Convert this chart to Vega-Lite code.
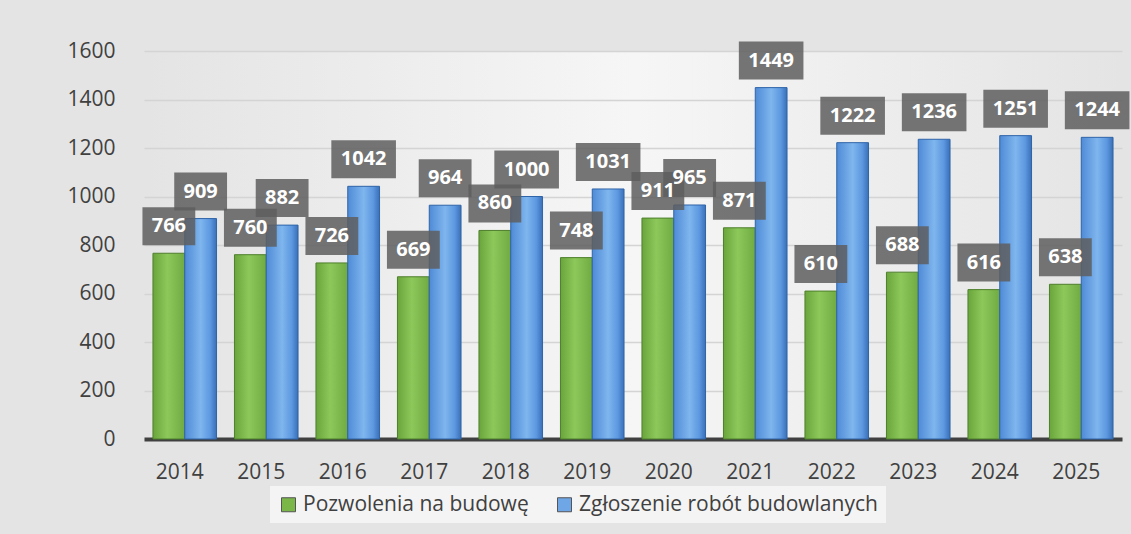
{
  "$schema": "https://vega.github.io/schema/vega-lite/v6.json",
  "autosize": "none",
  "width": 978,
  "height": 388,
  "padding": {"left": 144, "top": 51, "right": 9, "bottom": 95},
  "background": "#e4e4e4",
  "config": {
    "font": "Open Sans",
    "view": {
      "stroke": null,
      "fill": {
        "gradient": "linear", "x1": 0, "y1": 0, "x2": 1, "y2": 0,
        "stops": [
          {"offset": 0, "color": "#e4e4e4"},
          {"offset": 0.5, "color": "#f6f6f6"},
          {"offset": 1, "color": "#e4e4e4"}
        ]
      }
    }
  },
  "data": {
    "values": [
      {"year": "2014", "series": "Zgłoszenie robót budowlanych", "value": 909},
      {"year": "2015", "series": "Zgłoszenie robót budowlanych", "value": 882},
      {"year": "2016", "series": "Zgłoszenie robót budowlanych", "value": 1042},
      {"year": "2017", "series": "Zgłoszenie robót budowlanych", "value": 964},
      {"year": "2018", "series": "Zgłoszenie robót budowlanych", "value": 1000},
      {"year": "2019", "series": "Zgłoszenie robót budowlanych", "value": 1031},
      {"year": "2020", "series": "Zgłoszenie robót budowlanych", "value": 965},
      {"year": "2021", "series": "Zgłoszenie robót budowlanych", "value": 1449},
      {"year": "2022", "series": "Zgłoszenie robót budowlanych", "value": 1222},
      {"year": "2023", "series": "Zgłoszenie robót budowlanych", "value": 1236},
      {"year": "2024", "series": "Zgłoszenie robót budowlanych", "value": 1251},
      {"year": "2025", "series": "Zgłoszenie robót budowlanych", "value": 1244},
      {"year": "2014", "series": "Pozwolenia na budowę", "value": 766},
      {"year": "2015", "series": "Pozwolenia na budowę", "value": 760},
      {"year": "2016", "series": "Pozwolenia na budowę", "value": 726},
      {"year": "2017", "series": "Pozwolenia na budowę", "value": 669},
      {"year": "2018", "series": "Pozwolenia na budowę", "value": 860},
      {"year": "2019", "series": "Pozwolenia na budowę", "value": 748},
      {"year": "2020", "series": "Pozwolenia na budowę", "value": 911},
      {"year": "2021", "series": "Pozwolenia na budowę", "value": 871},
      {"year": "2022", "series": "Pozwolenia na budowę", "value": 610},
      {"year": "2023", "series": "Pozwolenia na budowę", "value": 688},
      {"year": "2024", "series": "Pozwolenia na budowę", "value": 616},
      {"year": "2025", "series": "Pozwolenia na budowę", "value": 638}
    ]
  },
  "encoding": {
    "x": {
      "field": "year", "type": "nominal",
      "scale": {"paddingInner": 0.22, "paddingOuter": 0.11},
      "axis": {
        "title": null, "labelAngle": 0, "labelFontSize": 21, "labelColor": "#404040",
        "labelPadding": 22, "labelOffset": -5, "ticks": false, "grid": false,
        "domainColor": "#404040", "domainWidth": 4
      }
    },
    "y": {
      "field": "value", "type": "quantitative",
      "scale": {"domain": [0, 1600], "nice": false},
      "axis": {
        "title": null, "values": [0, 200, 400, 600, 800, 1000, 1200, 1400, 1600],
        "format": "d",
        "labelFontSize": 21, "labelColor": "#404040", "labelPadding": 29,
        "ticks": false, "domain": false, "gridColor": "#d4d4d4", "gridWidth": 1.5
      }
    },
    "xOffset": {
      "field": "series", "type": "nominal",
      "scale": {"domain": ["Pozwolenia na budowę", "Zgłoszenie robót budowlanych"], "paddingInner": 0}
    }
  },
  "layer": [
    {
      "transform": [{"filter": "datum.series === 'Pozwolenia na budowę'"}],
      "mark": {
        "type": "bar",
        "stroke": "#4e7f2c", "strokeWidth": 1,
        "color": {
          "gradient": "linear", "x1": 0, "y1": 0, "x2": 1, "y2": 0,
          "stops": [
            {"offset": 0, "color": "#6aa53c"},
            {"offset": 0.45, "color": "#8cc85a"},
            {"offset": 1, "color": "#6fab42"}
          ]
        }
      }
    },
    {
      "transform": [{"filter": "datum.series === 'Zgłoszenie robót budowlanych'"}],
      "mark": {
        "type": "bar",
        "stroke": "#2f64a8", "strokeWidth": 1,
        "color": {
          "gradient": "linear", "x1": 0, "y1": 0, "x2": 1, "y2": 0,
          "stops": [
            {"offset": 0, "color": "#4f8ad6"},
            {"offset": 0.5, "color": "#7fb6ee"},
            {"offset": 0.8, "color": "#5d98e0"},
            {"offset": 1, "color": "#3a70b8"}
          ]
        }
      }
    },
    {
      "mark": {"type": "point", "opacity": 0, "filled": true},
      "encoding": {
        "color": {
          "field": "series", "type": "nominal",
          "scale": {"domain": ["Pozwolenia na budowę", "Zgłoszenie robót budowlanych"], "range": ["#7ab648", "#6ea6e6"]},
          "legend": {
            "title": null, "orient": "none", "direction": "horizontal",
            "legendX": 126, "legendY": 435,
            "symbolType": "square", "symbolSize": 196, "symbolOpacity": 1,
            "symbolStrokeColor": "#555555", "symbolStrokeWidth": 1,
            "labelFontSize": 21, "labelColor": "#404040", "labelLimit": 400,
            "columnPadding": 25, "padding": 8, "fillColor": "#f4f4f4"
          }
        }
      }
    },
    {
      "mark": {"type": "point", "filled": true, "yOffset": -27, "color": "#5e5e5e", "opacity": 0.85, "size": 1444},
      "encoding": {
        "shape": {
          "condition": {"test": "datum.value >= 1000", "value": "M-1.7,-1H1.7V1H-1.7Z"},
          "value": "M-1.39,-1H1.39V1H-1.39Z"
        }
      }
    },
    {
      "mark": {"type": "text", "dy": -27, "baseline": "middle", "align": "center", "fontSize": 20, "fontWeight": "bold", "color": "white"},
      "encoding": {"text": {"field": "value", "type": "quantitative"}}
    }
  ]
}
